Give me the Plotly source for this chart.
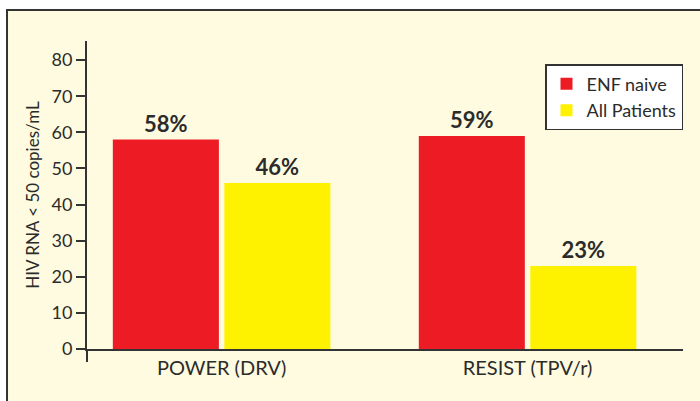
import plotly.graph_objects as go

categories = ["POWER (DRV)", "RESIST (TPV/r)"]
enf_naive = [58, 59]
all_patients = [46, 23]
series_names = ["ENF naive", "All Patients"]
y_ticks = [0, 10, 20, 30, 40, 50, 60, 70, 80]

TXT = "#2b2b2b"
FONT = "Lato"
CREAM = "#FFFBE0"

fig = go.Figure()
fig.add_trace(go.Bar(
    x=categories, y=enf_naive, name=series_names[0],
    marker=dict(color="#ED1C24", line=dict(width=0)),
    texttemplate="<b>%{y}%</b>", textposition="outside",
    textfont=dict(size=22, color=TXT, family=FONT), cliponaxis=False,
))
fig.add_trace(go.Bar(
    x=categories, y=all_patients, name=series_names[1],
    marker=dict(color="#FFF200", line=dict(width=0)),
    texttemplate="<b>%{y}%</b>", textposition="outside",
    textfont=dict(size=22, color=TXT, family=FONT), cliponaxis=False,
))

fig.update_layout(
    width=700, height=401,
    margin=dict(l=87, r=17, t=41, b=52, autoexpand=False),
    paper_bgcolor="white", plot_bgcolor=CREAM,
    font=dict(family=FONT, color=TXT),
    barmode="group", bargap=0.271, bargroupgap=0.049,
    showlegend=True,
    legend=dict(
        x=1.0, xanchor="right", y=0.925, yanchor="top",
        bgcolor="white", bordercolor="#333333", borderwidth=1.5,
        font=dict(size=18, color=TXT, family=FONT),
    ),
    xaxis=dict(
        type="category", range=[-0.44, 1.508], automargin=False,
        showline=True, linecolor="#333333", linewidth=2,
        ticks="", showgrid=False, zeroline=False,
        tickfont=dict(size=20, color=TXT, family=FONT),
    ),
    yaxis=dict(
        range=[0, 85.3], tickvals=y_ticks, automargin=False,
        showline=True, linecolor="#333333", linewidth=2,
        ticks="outside", ticklen=9, tickwidth=2, tickcolor="#333333",
        showgrid=False, zeroline=False,
        tickfont=dict(size=18, color=TXT, family=FONT),
        title=dict(text="HIV RNA < 50 copies/mL", standoff=8,
                   font=dict(size=17, color=TXT, family=FONT)),
    ),
    shapes=[
        dict(type="rect", xref="paper", yref="paper",
             x0=-0.1342, x1=1.2, y0=-0.4, y1=1.1006,
             fillcolor=CREAM, line=dict(color="#333333", width=2),
             layer="below"),
        dict(type="line", xref="x domain", yref="paper",
             x0=0, x1=0, y0=0, y1=-0.042,
             line=dict(color="#333333", width=2)),
    ],
)

fig.write_html(
    "out.html",
    config={"displayModeBar": False},
    post_script="document.body.style.margin='0';document.body.style.overflow='hidden';",
)
